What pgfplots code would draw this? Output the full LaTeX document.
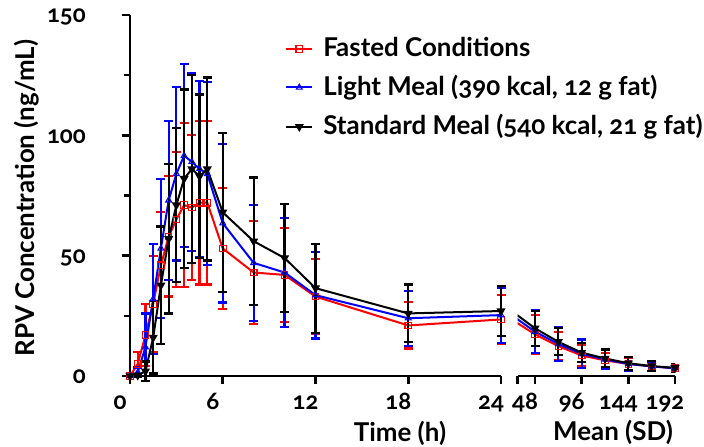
\documentclass[border=0pt]{standalone}
\usepackage{fontspec}
\setmainfont{Lato}[Numbers=OldStyle]
\usepackage{pgfplots}
\usepackage{pgfplotstable}
\pgfplotsset{compat=1.18}

% time (h), mean, SD  (ng/mL)
\pgfplotstableread{
t m s
0 0 0
0.5 5 5
1 17 13
1.5 30 20
2 46 22
2.5 58 25
3 65 28
3.5 71 34
4 70 30
4.5 72 34
5 72 34
6 53 25
8 43 21.5
10 42 19.5
12 33 15.5
18 21 9.6
24 23.5 10
48 17.3 8
72 12.4 6
96 8.5 4.5
120 6.5 3
144 5 2.5
168 4 1.8
192 3.2 1.4
}\fasted

\pgfplotstableread{
t m s
0 0 0
0.5 1.5 2
1 12 14
1.5 32 23
2 53 29
2.5 73 33
3 84 36
3.5 91.5 38
4 89 37
4.5 86 36.5
5 84 38
6 63.5 33
8 47 24
10 43 22.7
12 33.6 18
18 24 11.4
24 25.3 11.5
48 18.4 8.8
72 13.3 7
96 9.2 6
120 6.9 4
144 5 3
168 4 2
192 3.2 1.5
}\light

\pgfplotstableread{
t m s
0 0 0
0.5 0.3 0.5
1 2 4
1.5 16 15
2 37.7 24.4
2.5 57 31
3 71 32
3.5 82 37
4 86 39
4.5 83 34
5 86 38
6 68 33
8 56 26.5
10 49 22.5
12 36.5 18.5
18 26 12
24 27 10.3
48 19.8 7.2
72 14.2 5.6
96 9.7 4
120 7.3 3.7
144 5.3 2.7
168 4.1 2
192 3.4 1.5
}\standard

\pgfplotsset{
  pk/.style={
    scale only axis, height=361bp, ymin=0, ymax=150,
    /pgf/number format/assume math mode=true,
    axis line style={line width=2.6bp},
    tick style={line width=2.6bp, black},
    tick align=outside, major tick length=8bp, minor tick length=6bp,
    tick label style={font=\bfseries\fontsize{24}{29}\selectfont},
    xticklabel style={anchor=base, inner sep=0pt, xshift=-10bp, yshift=-26bp},
  },
  ser/.style={line width=2bp, mark size=3.3bp, mark options={solid, line width=1.1bp}},
  eb/.style={error bars/.cd, y dir=both, y explicit, error mark=|,
    error bar style={line width=2.2bp, solid}, error mark options={line width=2.2bp, mark size=4.5bp}},
}

\begin{document}
\bfseries\fontsize{26}{31}\selectfont
\begin{tikzpicture}[x=1bp,y=1bp]
\path[use as bounding box] (0,0) rectangle (704,447);

\begin{axis}[pk, at={(130bp,71bp)}, anchor=south west, width=371bp,
  xmin=0, xmax=24, clip=false,
  axis x line*=bottom, axis y line*=left,
  xtick={0,6,12,18,24}, ytick={0,50,100,150}, minor ytick={25,75,125},
  yticklabel style={anchor=base east, inner sep=0pt, xshift=-36bp, yshift=-8bp},
  legend cell align=left,
  legend style={at={(axis description cs:0.41,0.95)}, anchor=north west,
    draw=none, fill=none, row sep=11bp, nodes={inner sep=2bp},
    /tikz/every odd column/.append style={column sep=8bp},
    font=\bfseries\fontsize{26}{31}\selectfont},
  legend image code/.code={\draw[mark repeat=2, mark phase=2, #1]
    plot coordinates {(0bp,0bp) (13bp,0bp) (26bp,0bp)};},
]
\addplot[red, ser, mark=square, restrict x to domain=0:24, eb]
  table[x=t, y=m, y error=s] {\fasted};
\addlegendentry{Fasted Conditions}
\addplot[blue, ser, mark=triangle, restrict x to domain=0:24, eb]
  table[x=t, y=m, y error=s] {\light};
\addlegendentry{Light Meal (390 kcal, 12 g fat)}
\addplot[black, ser, mark=triangle*, mark options={rotate=180}, restrict x to domain=0:24, eb]
  table[x=t, y=m, y error=s] {\standard};
\addlegendentry{Standard Meal (540 kcal, 21 g fat)}
\end{axis}

\begin{axis}[pk, at={(517.7bp,71bp)}, anchor=south west, width=157.3bp,
  xmin=30.2, xmax=192,
  axis x line*=bottom, axis y line=none,
  xtick={48,96,144,192}, extra x ticks={30.2}, extra x tick labels={},
]
\addplot[red, line width=2bp, restrict x to domain=24:192] table[x=t, y=m] {\fasted};
\addplot[blue, line width=2bp, restrict x to domain=24:192] table[x=t, y=m] {\light};
\addplot[black, line width=2bp, restrict x to domain=24:192] table[x=t, y=m] {\standard};
\addplot[red, ser, only marks, mark=square, restrict x to domain=40:192, eb]
  table[x=t, y=m, y error=s] {\fasted};
\addplot[blue, ser, only marks, mark=triangle, restrict x to domain=40:192, eb]
  table[x=t, y=m, y error=s] {\light};
\addplot[black, ser, only marks, mark=triangle*, mark options={rotate=180}, restrict x to domain=40:192, eb]
  table[x=t, y=m, y error=s] {\standard};
\end{axis}

\node[rotate=90] at (27,249) {RPV Concentration (ng/mL)};
\node at (400,14) {Time (h)};
\node at (613,15) {Mean (SD)};
\end{tikzpicture}
\end{document}
